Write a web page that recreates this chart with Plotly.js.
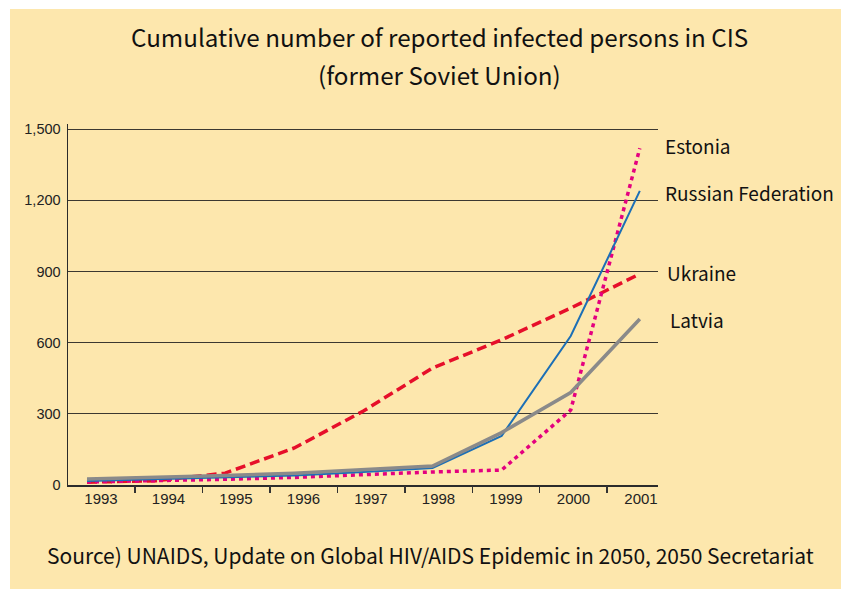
<!DOCTYPE html>
<html>
<head>
<meta charset="utf-8">
<script src="https://cdn.plot.ly/plotly-3.0.1.min.js"></script>
<style>
  html, body { margin: 0; padding: 0; background: #ffffff; overflow: hidden; }
  #chart { position: absolute; left: 10px; top: 9px; width: 831px; height: 580px; }
</style>
</head>
<body>
<div id="chart"></div>
<script>
// ---- data ----
const years = ["1993", "1994", "1995", "1996", "1997", "1998", "1999", "2000", "2001"];
const russia  = [17, 24, 32, 40, 55, 72, 207, 628, 1240];
const latvia  = [25, 32, 40, 50, 65, 80, 221, 390, 700];
const ukraine = [12, 18, 50, 156, 312, 493, 612, 746, 890];
const estonia = [13, 18, 24, 32, 45, 55, 63, 316, 1420];
const yTicks = [0, 300, 600, 900, 1200, 1500];
const seriesNames = ["Estonia", "Russian Federation", "Ukraine", "Latvia"];
const titleLine1 = "Cumulative number of reported infected persons in CIS";
const titleLine2 = "(former Soviet Union)";
const sourceText = "Source) UNAIDS, Update on Global HIV/AIDS Epidemic in 2050, 2050 Secretariat";

const labelFont = {family: "Noto Sans CJK JP, Noto Sans, sans-serif", size: 19, color: "#111"};
const bigFont = {family: "Noto Sans CJK JP, Noto Sans, sans-serif", size: 24.2, color: "#111"};

const traces = [
  {x: years, y: ukraine, name: "Ukraine", type: "scatter", mode: "lines",
   line: {color: "#e60f2a", width: 3.5, dash: "10px,5px"}},
  {x: years, y: estonia, name: "Estonia", type: "scatter", mode: "lines",
   line: {color: "#e4007f", width: 3.5, dash: "4px,4px"}},
  {x: years, y: russia, name: "Russian Federation", type: "scatter", mode: "lines",
   line: {color: "#1c6fb6", width: 2}},
  {x: years, y: latvia, name: "Latvia", type: "scatter", mode: "lines",
   line: {color: "#8a8a8a", width: 3.5}},
  // helper trace carrying the category labels for the label axis
  {x: years, y: years.map(() => null), xaxis: "x2", yaxis: "y", type: "scatter",
   mode: "lines", showlegend: false, hoverinfo: "skip"}
];

const layout = {
  width: 831, height: 580,
  margin: {l: 58, r: 183, t: 115, b: 104, pad: 0},
  paper_bgcolor: "#fde7ad",
  plot_bgcolor: "#fde7ad",
  showlegend: false,
  xaxis: {
    type: "category", range: [-0.275, 8.263],
    showline: true, linecolor: "#2b2b2b", linewidth: 1.5,
    ticks: "", showticklabels: false, showgrid: false, zeroline: false,
    fixedrange: true
  },
  xaxis2: {
    type: "category", overlaying: "x", anchor: "y", side: "bottom",
    categoryorder: "array", categoryarray: years,
    range: [-0.489, 8.252],
    tickson: "boundaries", ticks: "outside", ticklen: 7, tickwidth: 1.5, tickcolor: "#333",
    ticklabelstandoff: 3,
    showgrid: false, showline: false, zeroline: false,
    tickfont: {family: "Liberation Sans, Arial, sans-serif", size: 15, color: "#222"},
    fixedrange: true
  },
  yaxis: {
    range: [0, 1522],
    tickmode: "array", tickvals: yTicks, tickformat: ",d",
    showgrid: true, gridcolor: "#3c3830", gridwidth: 1.2,
    showline: true, linecolor: "#2b2b2b", linewidth: 1.5,
    zeroline: false, ticks: "", ticklabelstandoff: 3,
    tickfont: {family: "Liberation Sans, Arial, sans-serif", size: 14.5, color: "#222"},
    fixedrange: true
  },
  annotations: [
    {text: titleLine1, xref: "paper", yref: "paper", x: 0.5 + (439 - 363) / 590, y: 1.241,
     xanchor: "center", yanchor: "middle", showarrow: false, font: bigFont},
    {text: titleLine2, xref: "paper", yref: "paper", x: 0.5 + (439 - 363) / 590, y: 1.1385,
     xanchor: "center", yanchor: "middle", showarrow: false, font: bigFont},
    {text: sourceText, xref: "paper", yref: "paper", x: 0.615, y: -0.194,
     xanchor: "center", yanchor: "middle", showarrow: false,
     font: {family: "Noto Sans CJK JP, Noto Sans, sans-serif", size: 21, color: "#111"}},
    {text: seriesNames[0], xref: "paper", yref: "paper", x: 1.0085, y: 0.9418,
     xanchor: "left", yanchor: "middle", showarrow: false, font: labelFont},
    {text: seriesNames[1], xref: "paper", yref: "paper", x: 1.0085, y: 0.8116,
     xanchor: "left", yanchor: "middle", showarrow: false, font: labelFont},
    {text: seriesNames[2], xref: "paper", yref: "paper", x: 1.012, y: 0.5873,
     xanchor: "left", yanchor: "middle", showarrow: false, font: labelFont},
    {text: seriesNames[3], xref: "paper", yref: "paper", x: 1.017, y: 0.4598,
     xanchor: "left", yanchor: "middle", showarrow: false, font: labelFont}
  ]
};

Plotly.newPlot("chart", traces, layout, {staticPlot: true, displayModeBar: false});
</script>
</body>
</html>
